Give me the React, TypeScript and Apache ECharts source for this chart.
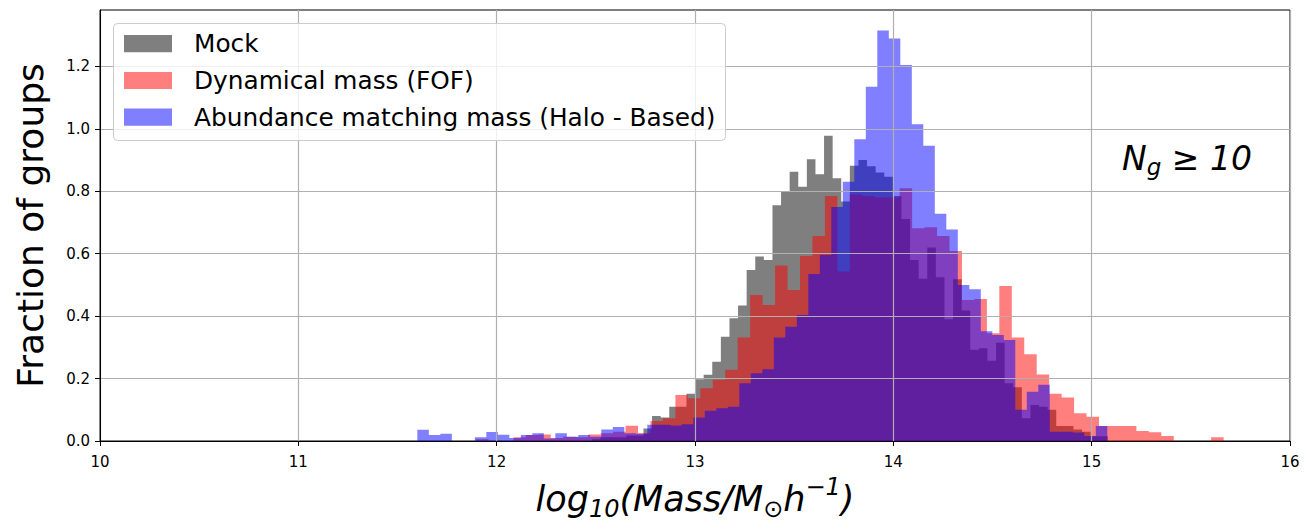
import React, { useEffect, useRef } from "react";
import * as echarts from "echarts";

// ---- data ----
const xTicks = [10, 11, 12, 13, 14, 15, 16];
const yTicks = [0, 0.2, 0.4, 0.6, 0.8, 1.0, 1.2];
const yMax = 1.381;

const seriesNames = ["Mock", "Dynamical mass (FOF)", "Abundance matching mass (Halo - Based)"];

// Mock (60 bins)
const mockStart = 12.48;
const mockWidth = 0.04336;
const mockHeights = [
  0.006, 0.012, 0.012, 0.012, 0.018, 0.018, 0.04, 0.08, 0.075, 0.11,
  0.11, 0.151, 0.198, 0.212, 0.254, 0.334, 0.393, 0.434, 0.548, 0.591,
  0.58, 0.755, 0.8, 0.863, 0.815, 0.903, 0.855, 0.978, 0.842, 0.767,
  0.882, 0.9, 0.88, 0.86, 0.847, 0.785, 0.711, 0.58, 0.52, 0.62,
  0.525, 0.39, 0.518, 0.418, 0.292, 0.297, 0.257, 0.315, 0.185, 0.172,
  0.073, 0.115, 0.11, 0.1, 0.048, 0.048, 0.037, 0.03, 0.015, 0.015,
];

// Dynamical mass (FOF) (60 bins)
const dynStart = 11.896;
const dynWidth = 0.06282;
const dynHeights = [
  0.006, 0, 0, 0.012, 0.019, 0.021, 0.01, 0.014, 0.012, 0.021,
  0.025, 0.03, 0.049, 0.025, 0.064, 0.073, 0.147, 0.137, 0.169, 0.196,
  0.228, 0.332, 0.468, 0.436, 0.562, 0.484, 0.593, 0.657, 0.785, 0.543,
  0.79, 0.785, 0.78, 0.78, 0.81, 0.682, 0.685, 0.657, 0.609, 0.452,
  0.455, 0.345, 0.497, 0.332, 0.278, 0.213, 0.151, 0.139, 0.089, 0.078,
  0.048, 0.048, 0.048, 0.032, 0.028, 0.016, 0, 0, 0, 0.012,
];

// Abundance matching mass (Halo - Based) (60 bins)
const abStart = 11.6;
const abWidth = 0.05798;
const abHeights = [
  0.036, 0.019, 0.023, 0, 0, 0.012, 0.029, 0.02, 0.01, 0.019,
  0.025, 0.008, 0.025, 0.014, 0.019, 0.014, 0.037, 0.045, 0.025, 0.023,
  0.052, 0.052, 0.05, 0.054, 0.075, 0.097, 0.105, 0.11, 0.185, 0.217,
  0.23, 0.332, 0.366, 0.404, 0.535, 0.596, 0.75, 0.831, 0.967, 1.135,
  1.315, 1.29, 1.205, 1.015, 0.946, 0.728, 0.678, 0.5, 0.486, 0.352,
  0.34, 0.324, 0.1, 0.158, 0.18, 0.03, 0.03, 0.027, 0.016, 0.048,
];

const colors = ["rgba(0,0,0,0.5)", "rgba(255,0,0,0.5)", "rgba(0,0,255,0.5)"];

function histSeries(name: string, color: string, start: number, width: number, heights: number[]) {
  const data = heights.map((h, i) => [start + i * width, start + (i + 1) * width, h]);
  return {
    type: "custom",
    name,
    data,
    encode: { x: [0, 1], y: 2 },
    itemStyle: { color },
    renderItem: (params: any, api: any) => {
      if (params.dataIndex !== 0) return null;
      const n = heights.length;
      const pts: number[][] = [];
      pts.push(api.coord([start, 0]));
      for (let i = 0; i < n; i++) {
        const x0 = start + i * width;
        const x1 = start + (i + 1) * width;
        pts.push(api.coord([x0, heights[i]]));
        pts.push(api.coord([x1, heights[i]]));
      }
      pts.push(api.coord([start + n * width, 0]));
      return { type: "polygon", shape: { points: pts }, style: { fill: color } };
    },
  };
}

const FONT = "DejaVu Sans";

export default function App() {
  const ref = useRef<HTMLDivElement>(null);
  useEffect(() => {
    if (!ref.current) return;
    const chart = echarts.init(ref.current, null, { renderer: "svg" });
    const legendRows = [43.7, 80.5, 117.2];
    const option: any = {
      animation: false,
      backgroundColor: "#ffffff",
      grid: {
        left: 100,
        right: 18,
        top: 10,
        bottom: 81,
        show: true,
        borderColor: "#000",
        borderWidth: 1,
        backgroundColor: "#fff",
        containLabel: false,
        outerBoundsMode: "none",
      },
      xAxis: {
        type: "value",
        min: 10,
        max: 16,
        interval: 1,
        z: 5,
        name: "{i|log}{s|10}{i|(Mass/M}{s|⊙}{i|h}{p|−1}{i|)}",
        nameLocation: "middle",
        nameGap: 34,
        nameTextStyle: {
          fontFamily: FONT,
          color: "#000",
          rich: {
            i: { fontSize: 35, fontStyle: "italic", fontFamily: FONT, color: "#000" },
            s: { fontSize: 24, fontStyle: "italic", fontFamily: FONT, color: "#000", padding: [20, 0, 0, 0] },
            p: { fontSize: 24, fontStyle: "italic", fontFamily: FONT, color: "#000", padding: [0, 0, 24, 0] },
          },
        },
        axisLine: { show: true, onZero: false, lineStyle: { color: "#000", width: 1 } },
        axisTick: { show: true, length: 5, lineStyle: { color: "#000", width: 1 }, customValues: xTicks },
        axisLabel: {
          show: true,
          margin: 13,
          fontSize: 15,
          fontFamily: FONT,
          color: "#000",
          customValues: xTicks,
          formatter: (v: number) => String(v),
        },
        splitLine: { show: true, lineStyle: { color: "#b0b0b0", width: 1.2 } },
      },
      yAxis: {
        type: "value",
        min: 0,
        max: yMax,
        interval: 0.2,
        z: 5,
        name: "Fraction of groups",
        nameLocation: "middle",
        nameGap: 52,
        nameRotate: 90,
        nameTextStyle: { fontSize: 36, fontFamily: FONT, color: "#000" },
        axisLine: { show: true, lineStyle: { color: "#000", width: 1 } },
        axisTick: { show: true, length: 5, lineStyle: { color: "#000", width: 1 }, customValues: yTicks },
        axisLabel: {
          show: true,
          margin: 10,
          fontSize: 15,
          fontFamily: FONT,
          color: "#000",
          customValues: yTicks,
          formatter: (v: number) => v.toFixed(1),
        },
        splitLine: { show: true, lineStyle: { color: "#b0b0b0", width: 1.2 } },
      },
      series: [
        histSeries(seriesNames[0], colors[0], mockStart, mockWidth, mockHeights),
        histSeries(seriesNames[1], colors[1], dynStart, dynWidth, dynHeights),
        histSeries(seriesNames[2], colors[2], abStart, abWidth, abHeights),
      ],
      graphic: [
        {
          type: "rect",
          z: 100,
          shape: { x: 113.5, y: 23.5, width: 612, height: 117, r: 4 },
          style: { fill: "rgba(255,255,255,0.8)", stroke: "#cccccc", lineWidth: 1 },
        },
        ...seriesNames.map((nm, i) => ({
          type: "rect",
          z: 101,
          shape: { x: 124, y: legendRows[i] - 8.6, width: 48, height: 17.2 },
          style: { fill: colors[i] },
        })),
        ...seriesNames.map((nm, i) => ({
          type: "text",
          z: 101,
          x: 194,
          y: legendRows[i],
          style: {
            text: nm,
            fontSize: 24.8,
            fontFamily: FONT,
            fill: "#000",
            align: "left",
            verticalAlign: "middle",
          },
        })),
        {
          type: "text",
          z: 101,
          x: 1122,
          y: 158,
          style: {
            text: "{i|N}{s|g}{i| ≥ 10}",
            verticalAlign: "middle",
            align: "left",
            fill: "#000",
            rich: {
              i: { fontSize: 33, fontStyle: "italic", fontFamily: FONT, fill: "#000" },
              s: { fontSize: 23, fontStyle: "italic", fontFamily: FONT, fill: "#000", padding: [18, 0, 0, 0] },
            },
          },
        },
      ],
    };
    chart.setOption(option);
    return () => chart.dispose();
  }, []);
  return (
    <div
      ref={ref}
      style={{ position: "absolute", left: 0, top: 0, width: 1308, height: 522, background: "#fff" }}
    />
  );
}
